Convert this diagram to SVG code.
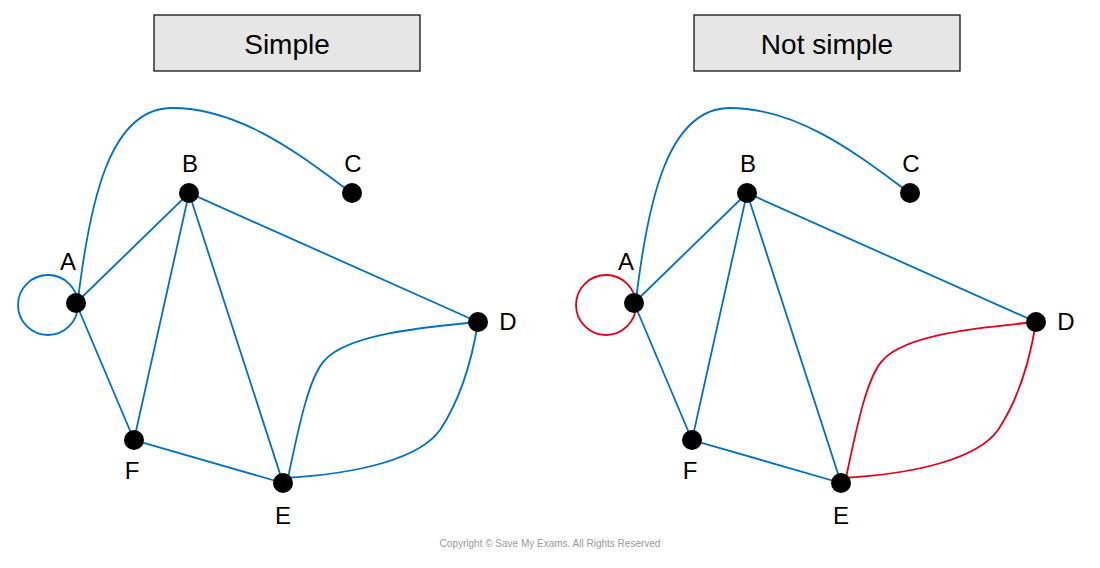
<svg xmlns="http://www.w3.org/2000/svg" width="1100" height="568" viewBox="0 0 1100 568">
<style>
.e{fill:none;stroke:#0070c0;stroke-width:1.8}
.r{fill:none;stroke:#e0001b;stroke-width:1.8}
.n{fill:#000}
.l{font-family:"Liberation Sans",sans-serif;font-size:24px;fill:#000;text-anchor:middle}
.t{font-family:"Liberation Sans",sans-serif;font-size:28px;fill:#000;text-anchor:middle}
.b{fill:#e6e6e6;stroke:#000;stroke-width:1.2}
</style>
<rect width="1100" height="568" fill="#fff"/>
<g id="title-left"><rect class="b" x="154" y="15" width="266" height="56"/><text class="t" x="287" y="54">Simple</text></g>
<g id="title-right"><rect class="b" x="694" y="15" width="266" height="56"/><text class="t" x="827" y="54">Not simple</text></g>
<g id="connectors">
<g id="left-edges">
<circle class="e" cx="48" cy="305" r="30"/>
<path class="e" d="M78,300 C90,200 110,108 172,108 C240,108 300,155 345,188"/>
<path class="e" d="M76,303 L189,193 L134,440 L283,483 L189,193 L478,322 M76,303 L134,440"/>
<path class="e" d="M288,478 C300,420 310,375 325,360 C350,332 440,326 478,322"/>
<path class="e" d="M283,478 C360,474 420,458 440,430 C460,400 472,360 478,322"/>
</g>
<g id="right-edges">
<circle class="r" cx="606" cy="305" r="30"/>
<path class="e" d="M636,300 C648,200 668,108 730,108 C798,108 858,155 903,188"/>
<path class="e" d="M634,303 L747,193 L692,440 L841,483 L747,193 L1036,322 M634,303 L692,440"/>
<path class="r" d="M846,478 C858,420 868,375 883,360 C908,332 998,326 1036,322"/>
<path class="r" d="M841,478 C918,474 978,458 998,430 C1018,400 1030,360 1036,322"/>
</g>
</g>
<g id="node-A-left"><circle class="n" cx="76" cy="303" r="10"/><text class="l" x="68" y="270">A</text></g>
<g id="node-B-left"><circle class="n" cx="189" cy="193" r="10"/><text class="l" x="190" y="172">B</text></g>
<g id="node-C-left"><circle class="n" cx="352" cy="193" r="10"/><text class="l" x="353" y="172">C</text></g>
<g id="node-D-left"><circle class="n" cx="478" cy="322" r="10"/><text class="l" x="508" y="330">D</text></g>
<g id="node-E-left"><circle class="n" cx="283" cy="483" r="10"/><text class="l" x="283" y="524">E</text></g>
<g id="node-F-left"><circle class="n" cx="134" cy="440" r="10"/><text class="l" x="132" y="479">F</text></g>
<g id="node-A-right"><circle class="n" cx="634" cy="303" r="10"/><text class="l" x="626" y="270">A</text></g>
<g id="node-B-right"><circle class="n" cx="747" cy="193" r="10"/><text class="l" x="748" y="172">B</text></g>
<g id="node-C-right"><circle class="n" cx="910" cy="193" r="10"/><text class="l" x="911" y="172">C</text></g>
<g id="node-D-right"><circle class="n" cx="1036" cy="322" r="10"/><text class="l" x="1066" y="330">D</text></g>
<g id="node-E-right"><circle class="n" cx="841" cy="483" r="10"/><text class="l" x="841" y="524">E</text></g>
<g id="node-F-right"><circle class="n" cx="692" cy="440" r="10"/><text class="l" x="690" y="479">F</text></g>
<text x="550" y="547" font-family="Liberation Sans,sans-serif" font-size="10" fill="#999" text-anchor="middle">Copyright © Save My Exams. All Rights Reserved</text>
</svg>
